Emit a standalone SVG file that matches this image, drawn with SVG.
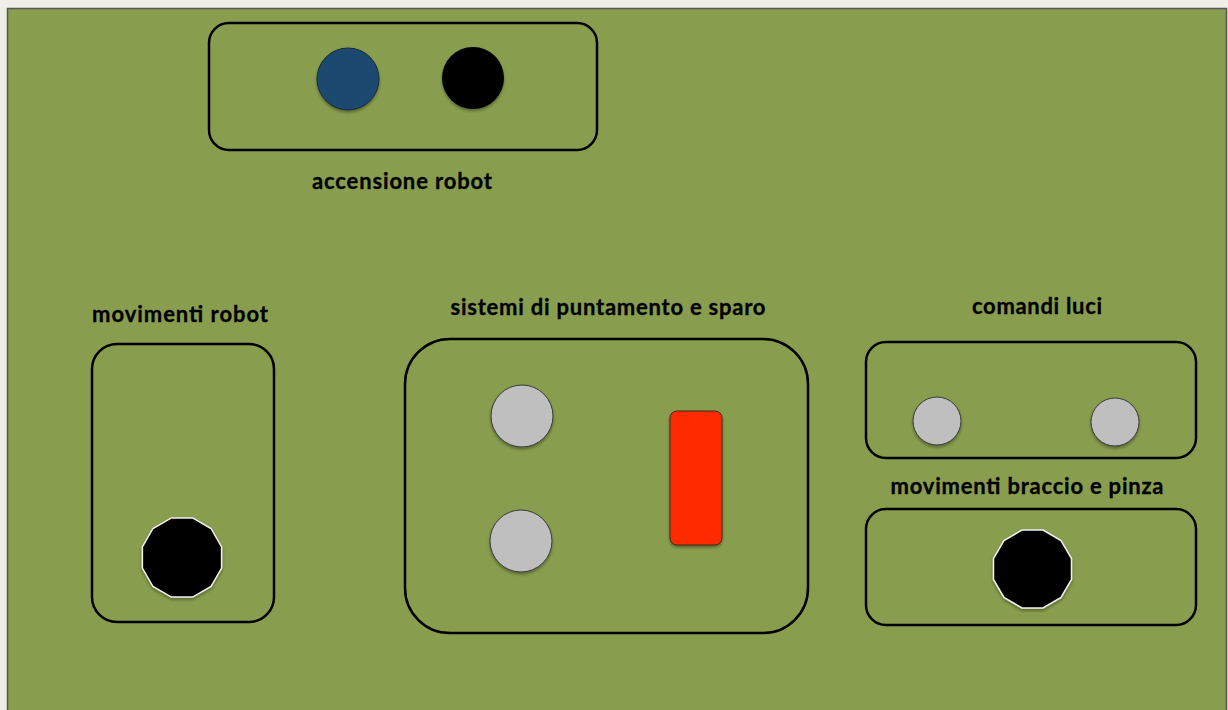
<svg xmlns="http://www.w3.org/2000/svg" width="1228" height="710" viewBox="0 0 1228 710">
<defs>
<filter id="sh" x="-20%" y="-20%" width="140%" height="150%">
<feGaussianBlur in="SourceAlpha" stdDeviation="1.5"/>
<feOffset dx="0" dy="2" result="b"/>
<feComponentTransfer><feFuncA type="linear" slope="0.35"/></feComponentTransfer>
<feMerge><feMergeNode/><feMergeNode in="SourceGraphic"/></feMerge>
</filter>
</defs>
<style>
.box{fill:none;stroke:#000;stroke-width:2.5}
.lbl{font-family:Lato,"Open Sans","Liberation Sans",sans-serif;font-weight:bold;font-size:22px;fill:#000;text-anchor:middle;stroke:#000;stroke-width:0.3}
.grey{fill:#BFBFBF;stroke:#3a3a3a;stroke-width:1}
.oct{fill:#000;stroke:#f0f0f0;stroke-width:1.5}
</style>
<rect x="0" y="0" width="1228" height="710" fill="#EFEEE9"/>
<rect x="7.5" y="8.5" width="1219" height="710" fill="#889D4D" stroke="#555" stroke-width="1.5"/>

<g id="accensione">
<rect class="box" x="209" y="23" width="388" height="127" rx="20"/>
<circle cx="348" cy="79" r="31" fill="#1C4870" stroke="#1a2a3a" stroke-width="1" filter="url(#sh)"/>
<circle cx="473" cy="78" r="31" fill="#000" filter="url(#sh)"/>
<text class="lbl" x="402" y="189" textLength="180">accensione robot</text>
</g>

<g id="movimenti-robot">
<rect class="box" x="92" y="344" width="182" height="278" rx="25"/>
<polygon class="oct" filter="url(#sh)" transform="translate(182,557.5)" points="10.6,-39.6 29,-29 39.6,-10.6 39.6,10.6 29,29 10.6,39.6 -10.6,39.6 -29,29 -39.6,10.6 -39.6,-10.6 -29,-29 -10.6,-39.6"/>
<text class="lbl" x="180" y="322" textLength="176">movimenti robot</text>
</g>

<g id="puntamento">
<rect class="box" x="405" y="339" width="403" height="294" rx="45"/>
<circle class="grey" cx="522" cy="416" r="31" filter="url(#sh)"/>
<circle class="grey" cx="521" cy="541" r="31" filter="url(#sh)"/>
<rect x="670" y="411" width="52" height="134" rx="7" fill="#FF2A00" stroke="#3a2a1a" stroke-width="1" filter="url(#sh)"/>
<text class="lbl" x="608" y="315" textLength="315">sistemi di puntamento e sparo</text>
</g>

<g id="luci">
<rect class="box" x="866" y="342" width="330" height="116" rx="20"/>
<circle class="grey" cx="937" cy="421" r="24" filter="url(#sh)"/>
<circle class="grey" cx="1115" cy="422" r="24" filter="url(#sh)"/>
<text class="lbl" x="1037" y="314" textLength="130">comandi luci</text>
</g>

<g id="braccio">
<rect class="box" x="866" y="509" width="330" height="116" rx="20"/>
<polygon class="oct" filter="url(#sh)" transform="translate(1032.5,569)" points="10.5,-39 28.5,-28.5 39,-10.5 39,10.5 28.5,28.5 10.5,39 -10.5,39 -28.5,28.5 -39,10.5 -39,-10.5 -28.5,-28.5 -10.5,-39"/>
<text class="lbl" x="1027" y="494" textLength="273">movimenti braccio e pinza</text>
</g>

<g id="connectors"/>
</svg>
